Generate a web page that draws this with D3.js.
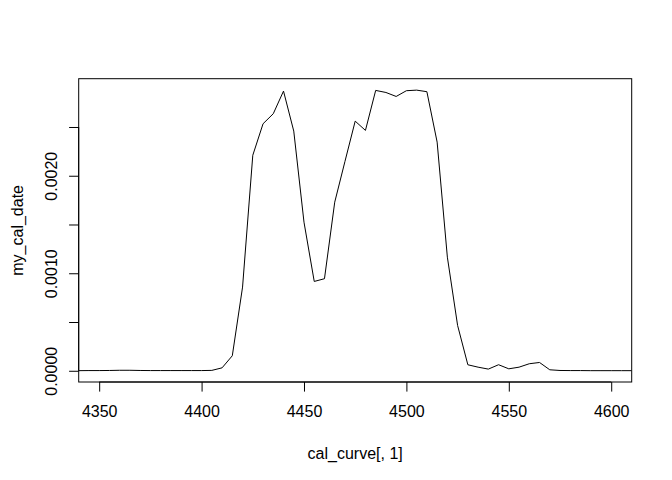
<!DOCTYPE html>
<html>
<head>
<meta charset="utf-8">
<script src="https://cdn.jsdelivr.net/npm/d3@7"></script>
<style>
  html, body { margin: 0; padding: 0; background: #fff; }
  svg text { font-family: "Liberation Sans", Arial, Helvetica, sans-serif; font-size: 16px; fill: #000; }
</style>
</head>
<body>
<svg id="chart" width="672" height="480"></svg>
<script>
// calendar years (x) of the calibrated-date density curve
const years = [4340,4345,4350,4355,4360,4365,4370,4375,4380,4385,4390,4395,4400,4405,
  4410,4415,4420,4425,4430,4435,4440,4445,4450,4455,4460,4465,4470,4475,4480,4485,
  4490,4495,4500,4505,4510,4515,4520,4525,4530,4535,4540,4545,4550,4555,4560,4565,
  4570,4575,4580,4585,4590,4595,4600,4605,4610];
// probability density (my_cal_date)
const density = [0.000001,0.000002,0.000002,0.000003,0.000005,0.000005,0.000003,0.000002,
  0.000002,0.000002,0.000002,0.000002,0.000002,0.000004,
  0.00003,0.000154,0.000858,0.00221,0.002533,0.002636,0.002868,0.002458,0.001524,0.000916,
  0.000944,0.001729,0.002147,0.00256,0.002465,0.002875,0.002854,0.002813,0.002872,0.002878,
  0.002862,0.002345,0.001165,0.000465,0.0000615,0.000037,0.000017,0.000062,0.00002,0.000037,
  0.000072,0.000085,0.00001,0.000003,0.000002,0.000002,0.000001,0.000001,0.000001,0.000001,0.000001];
const xTicks = [4350,4400,4450,4500,4550,4600];
const yTicks = [0,0.0005,0.001,0.0015,0.002,0.0025];
const yTickLabels = ["0.0000","","0.0010","","0.0020",""];
const xLabel = "cal_curve[, 1]";
const yLabel = "my_cal_date";
const xLim = [4350, 4600];
const yLim = [0, 0.00288];

const svg = d3.select("#chart");
const L = 78.7, R = 631.7, T = 78.7, B = 382;

function ext(lim){ const d=(lim[1]-lim[0])*0.04; return [lim[0]-d, lim[1]+d]; }
const x = d3.scaleLinear().domain(ext(xLim)).range([L, R]);
const y = d3.scaleLinear().domain(ext(yLim)).range([B, T]);

svg.append("defs").append("clipPath").attr("id","clip")
  .append("rect").attr("x",L).attr("y",T).attr("width",R-L).attr("height",B-T);

const pts = years.map((yr,i)=>[yr, density[i]]);
svg.append("path")
  .attr("clip-path","url(#clip)")
  .attr("d", d3.line().x(d=>x(d[0])).y(d=>y(d[1]))(pts))
  .attr("fill","none").attr("stroke","#000").attr("stroke-width",1)
  .attr("stroke-linejoin","round");

// box
svg.append("rect").attr("x",L).attr("y",T).attr("width",R-L).attr("height",B-T)
  .attr("fill","none").attr("stroke","#000").attr("stroke-width",1);

// x axis
const xa = svg.append("g").attr("transform",`translate(0,${B})`)
  .call(d3.axisBottom(x).tickValues(xTicks).tickSize(9.6).tickPadding(14).tickFormat(d3.format("d")));
xa.select(".domain").attr("d", `M${x(xTicks[0])},0H${x(xTicks[xTicks.length-1])}`).attr("stroke","#000");
xa.selectAll(".tick line").attr("stroke","#000");
xa.selectAll("text").attr("font-size",16).attr("font-family",null).attr("dy","0.71em").attr("y",24);
xa.attr("font-family",null).attr("font-size",null);

// y axis
const ya = svg.append("g").attr("transform",`translate(${L},0)`)
  .call(d3.axisLeft(y).tickValues(yTicks).tickSize(9.6).tickFormat((d,i)=>yTickLabels[i]));
ya.select(".domain").attr("d", `M0,${y(yTicks[0])}V${y(yTicks[yTicks.length-1])}`).attr("stroke","#000");
ya.selectAll(".tick line").attr("stroke","#000");
ya.selectAll(".tick text")
  .attr("x",null).attr("dy",null)
  .attr("transform","translate(-21.5,0) rotate(-90)")
  .attr("text-anchor","middle").attr("y",0);
ya.attr("font-family",null).attr("font-size",null);

svg.append("text").attr("x",(L+R)/2).attr("y",458.5).attr("text-anchor","middle").text(xLabel);
svg.append("text").attr("transform",`translate(22.5,${(T+B)/2}) rotate(-90)`)
  .attr("text-anchor","middle").text(yLabel);
</script>
</body>
</html>
